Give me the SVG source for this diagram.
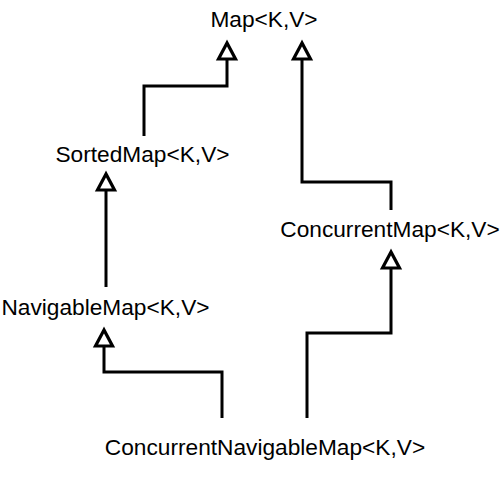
<svg xmlns="http://www.w3.org/2000/svg" width="500" height="478" viewBox="0 0 500 478">
<style>
.lbl{font-family:"Liberation Sans",Arial,Helvetica,sans-serif;font-size:22.7px;fill:#000;text-anchor:middle}
.edge{fill:none;stroke:#000;stroke-width:3;stroke-linejoin:miter}
</style>
<defs>
<marker id="tri" markerUnits="userSpaceOnUse" markerWidth="30" markerHeight="30" viewBox="-22 -15 30 30" refX="0" refY="0" orient="auto" overflow="visible">
<path d="M0,0 L-16,-8.5 L-16,8.5 Z" fill="#fff" stroke="#000" stroke-width="3.2"/>
</marker>
</defs>
<rect width="500" height="478" fill="#fff"/>
<g id="connectors">
<path class="edge" d="M144,136 V86 H227 V43" marker-end="url(#tri)"/>
<path class="edge" d="M391,210 V182 H302 V43" marker-end="url(#tri)"/>
<path class="edge" d="M106,287 V174" marker-end="url(#tri)"/>
<path class="edge" d="M222,418 V372 H104 V330" marker-end="url(#tri)"/>
<path class="edge" d="M307,418 V333 H391 V252" marker-end="url(#tri)"/>
</g>
<g id="map"><text class="lbl" x="264" y="27">Map&lt;K,V&gt;</text></g>
<g id="sortedmap"><text class="lbl" x="142.5" y="162">SortedMap&lt;K,V&gt;</text></g>
<g id="navigablemap"><text class="lbl" x="105.5" y="315">NavigableMap&lt;K,V&gt;</text></g>
<g id="concurrentmap"><text class="lbl" x="390" y="237">ConcurrentMap&lt;K,V&gt;</text></g>
<g id="concurrentnavigablemap"><text class="lbl" x="265" y="455">ConcurrentNavigableMap&lt;K,V&gt;</text></g>
</svg>
